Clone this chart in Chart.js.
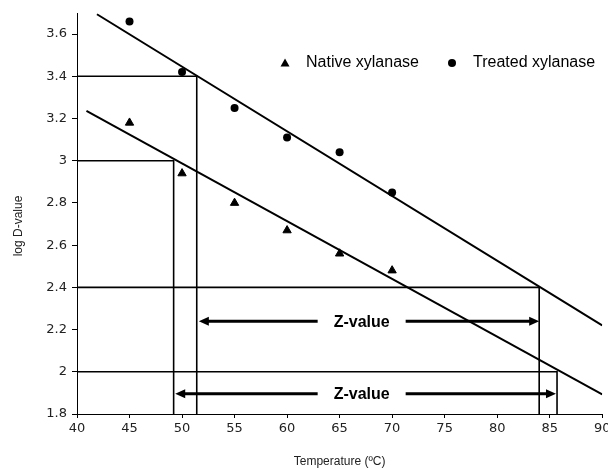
<!DOCTYPE html>
<html>
<head>
<meta charset="utf-8">
<script src="https://cdn.jsdelivr.net/npm/chart.js@4/dist/chart.umd.min.js"></script>
<style>
    html, body { margin: 0; padding: 0; background: #fff; }
    #wrap { width: 608px; height: 469px; }
</style>
</head>
<body>
<div id="wrap"><canvas id="chart" width="608" height="469"></canvas></div>
<script>
// Measured points
const temps = [45, 50, 55, 60, 65, 70];
const nativeLogD = [3.18, 2.94, 2.80, 2.67, 2.56, 2.48];
const treatedLogD = [3.66, 3.42, 3.25, 3.11, 3.04, 2.85];

// Regression line end points
const nativeFitX = [40.9, 90];
const nativeFitY = [3.236, 1.893];
const treatedFitX = [41.9, 90];
const treatedFitY = [3.694, 2.22];

// Reading lines (horizontal from the y axis, then down to the x axis)
const guideY = [3.4, 3.0, 2.4, 2.0];
const guideX = [51.4, 49.2, 84.0, 85.7];

// Z-value arrows
const arrowY = [2.24, 1.896];
const arrowFrom = [51.6, 49.35];
const arrowTo = [84.0, 85.6];
const arrowLabelX = [67.1, 67.1];
const arrowLabel = 'Z-value';

const xTicks = { min: 40, max: 90, step: 5 };
const yTicks = { min: 1.8, max: 3.7, step: 0.2 };

const toPoints = (xs, ys) => xs.map((x, i) => ({ x, y: ys[i] }));

const guideSets = guideY.map((y, i) => ({
    label: 'guide' + i,
    data: [
        { x: xTicks.min, y },
        { x: guideX[i], y },
        { x: guideX[i], y: yTicks.min }
    ],
    showLine: true,
    borderColor: '#000',
    borderWidth: 1.6,
    pointRadius: 0,
    fill: false
}));

// Arrows, legend and y title drawn on top
const overlay = {
    id: 'overlay',
    afterDatasetsDraw(chart) {
        const { ctx, scales: { x, y } } = chart;
        ctx.save();
        ctx.fillStyle = '#000';
        ctx.strokeStyle = '#000';

        // arrows
        ctx.font = 'bold 16px "Liberation Sans", Arial, sans-serif';
        ctx.textAlign = 'center';
        ctx.textBaseline = 'middle';
        arrowY.forEach((v, i) => {
            const py = y.getPixelForValue(v);
            const x1 = x.getPixelForValue(arrowFrom[i]);
            const x2 = x.getPixelForValue(arrowTo[i]);
            const cx = x.getPixelForValue(arrowLabelX[i]);
            const gap = 44;
            const head = 10;

            ctx.lineWidth = 3;
            ctx.beginPath();
            ctx.moveTo(x1 + head - 1, py);
            ctx.lineTo(cx - gap, py);
            ctx.moveTo(cx + gap, py);
            ctx.lineTo(x2 - head + 1, py);
            ctx.stroke();

            ctx.beginPath();
            ctx.moveTo(x1, py);
            ctx.lineTo(x1 + head, py - 4.5);
            ctx.lineTo(x1 + head, py + 4.5);
            ctx.closePath();
            ctx.moveTo(x2, py);
            ctx.lineTo(x2 - head, py - 4.5);
            ctx.lineTo(x2 - head, py + 4.5);
            ctx.closePath();
            ctx.fill();

            ctx.fillText(arrowLabel, cx, py + 1);
        });

        // legend
        const ly = 63;
        ctx.font = '16px "Liberation Sans", Arial, sans-serif';
        ctx.textAlign = 'left';
        ctx.beginPath();
        ctx.moveTo(285, ly - 4.5);
        ctx.lineTo(289.5, ly + 3.5);
        ctx.lineTo(280.5, ly + 3.5);
        ctx.closePath();
        ctx.fill();
        ctx.fillText('Native xylanase', 306, ly);
        ctx.beginPath();
        ctx.arc(452, ly, 4, 0, Math.PI * 2);
        ctx.fill();
        ctx.fillText('Treated xylanase', 473, ly);

        // y axis title
        ctx.font = '12px "Liberation Sans", Arial, sans-serif';
        ctx.textAlign = 'center';
        ctx.fillStyle = '#222';
        ctx.translate(19, 226);
        ctx.rotate(-Math.PI / 2);
        ctx.fillText('log D-value', 0, 0);
        ctx.restore();
    }
};

new Chart(document.getElementById('chart').getContext('2d'), {
    type: 'scatter',
    data: {
        datasets: [
            {
                label: 'Native xylanase',
                data: toPoints(temps, nativeLogD),
                pointStyle: 'triangle',
                pointRadius: 4.8,
                backgroundColor: '#000',
                borderColor: '#000',
                borderWidth: 1
            },
            {
                label: 'Treated xylanase',
                data: toPoints(temps, treatedLogD),
                pointStyle: 'circle',
                pointRadius: 4,
                backgroundColor: '#000',
                borderColor: '#000',
                borderWidth: 0
            },
            {
                label: 'Native fit',
                data: toPoints(nativeFitX, nativeFitY),
                showLine: true,
                borderColor: '#000',
                borderWidth: 2,
                pointRadius: 0
            },
            {
                label: 'Treated fit',
                data: toPoints(treatedFitX, treatedFitY),
                showLine: true,
                borderColor: '#000',
                borderWidth: 2,
                pointRadius: 0
            },
            ...guideSets
        ]
    },
    options: {
        responsive: false,
        animation: false,
        layout: { padding: { top: 13, right: 5, left: 0, bottom: 0 } },
        plugins: {
            legend: { display: false },
            tooltip: { enabled: false }
        },
        scales: {
            x: {
                type: 'linear',
                min: xTicks.min,
                max: xTicks.max,
                afterFit: s => {
                    s.height = 55;
                    s.paddingLeft = 0;
                    s.paddingRight = 0;
                },
                ticks: {
                    stepSize: xTicks.step,
                    color: '#222',
                    padding: 3,
                    maxRotation: 0,
                    font: { family: 'DejaVu Sans', size: 13 }
                },
                grid: { drawOnChartArea: false, drawTicks: true, tickLength: 4, tickColor: '#000' },
                border: { display: true, color: '#000', width: 1 },
                title: {
                    display: true,
                    text: 'Temperature (ºC)',
                    color: '#222',
                    padding: 0,
                    font: { family: 'Liberation Sans', size: 12 }
                }
            },
            y: {
                type: 'linear',
                min: yTicks.min,
                max: yTicks.max,
                afterFit: s => { s.width = 77; },
                ticks: {
                    stepSize: yTicks.step,
                    includeBounds: false,
                    color: '#222',
                    padding: 5,
                    font: { family: 'DejaVu Sans', size: 13 },
                    callback: v => String(Math.round(v * 10) / 10)
                },
                grid: { drawOnChartArea: false, drawTicks: true, tickLength: 5, tickColor: '#000' },
                border: { display: true, color: '#000', width: 1 }
            }
        }
    },
    plugins: [overlay]
});
</script>
</body>
</html>
